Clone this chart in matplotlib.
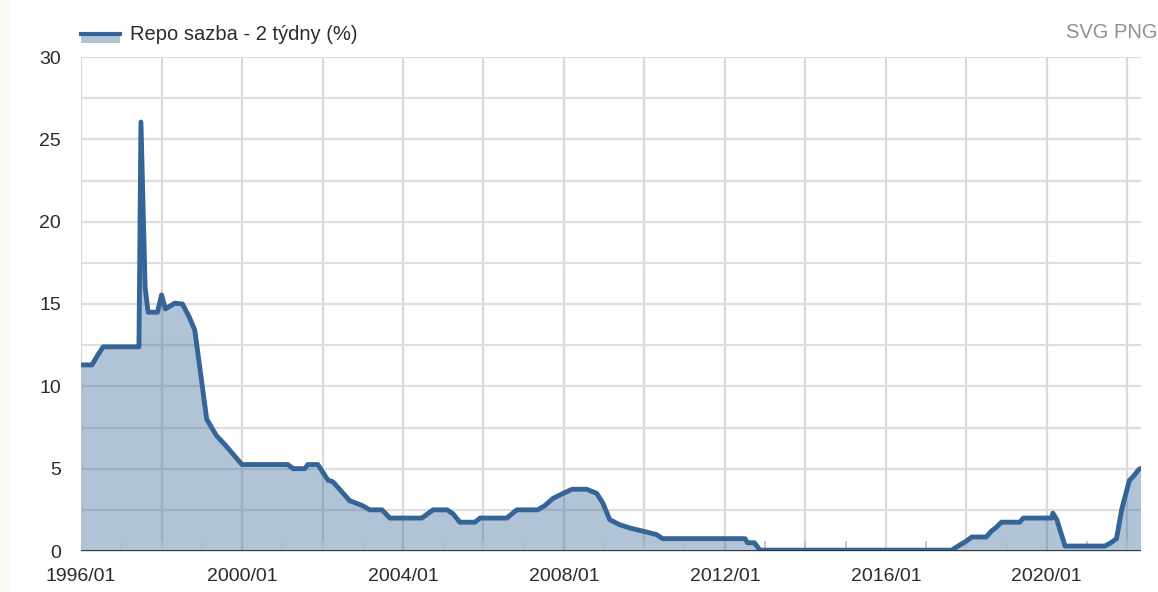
import matplotlib
matplotlib.use("Agg")
import matplotlib.pyplot as plt
import matplotlib.dates as mdates
from matplotlib.lines import Line2D
from matplotlib.patches import Rectangle
import pandas as pd

plt.rcParams["font.family"] = ["Liberation Sans", "DejaVu Sans"]

# ── data: vertices of the repo-rate line ──────────────────────────────────────
DATES = [
    "1996-01-01", "1996-04-10", "1996-06-01", "1996-07-20", "1997-06-10",
    "1997-06-28", "1997-08-05", "1997-09-01", "1997-11-25", "1998-01-01",
    "1998-02-05", "1998-05-01", "1998-07-10", "1998-09-10", "1998-10-30",
    "1999-02-15", "1999-05-15", "1999-07-25", "2000-01-01", "2001-02-20",
    "2001-04-10", "2001-07-25", "2001-08-20", "2001-11-20", "2002-02-20",
    "2002-04-05", "2002-06-05", "2002-09-05", "2002-11-05", "2003-01-01",
    "2003-03-05", "2003-06-25", "2003-09-05", "2004-06-20", "2004-08-10",
    "2004-10-01", "2005-02-05", "2005-04-01", "2005-06-01", "2005-10-15",
    "2005-12-01", "2006-08-01", "2006-09-15", "2006-11-01", "2007-05-08",
    "2007-07-10", "2007-09-25", "2007-12-25", "2008-03-15", "2008-07-25",
    "2008-10-25", "2008-12-20", "2009-02-20", "2009-05-20", "2009-08-20",
    "2009-12-20", "2010-04-20", "2010-06-15", "2012-07-01", "2012-07-25",
    "2012-09-25", "2012-11-15", "2017-08-20", "2017-11-01", "2017-12-20",
    "2018-02-20", "2018-07-01", "2018-08-15", "2018-10-01", "2018-11-15",
    "2019-05-01", "2019-06-01", "2020-02-15", "2020-02-25", "2020-04-01",
    "2020-06-15", "2021-06-10", "2021-08-05", "2021-09-25", "2021-11-10",
    "2022-01-20", "2022-02-20", "2022-04-15", "2022-05-01",
]
RATE = [
    11.3, 11.3, 11.9, 12.4, 12.4,
    26.05, 16.0, 14.5, 14.5, 15.55,
    14.7, 15.05, 15.0, 14.2, 13.4,
    8.0, 7.0, 6.5, 5.25, 5.25,
    5.0, 5.0, 5.25, 5.25, 4.3,
    4.2, 3.75, 3.05, 2.9, 2.75,
    2.5, 2.5, 2.0, 2.0, 2.25,
    2.5, 2.5, 2.25, 1.75, 1.75,
    2.0, 2.0, 2.25, 2.5, 2.5,
    2.75, 3.2, 3.5, 3.75, 3.75,
    3.5, 2.9, 1.9, 1.6, 1.4,
    1.2, 1.0, 0.75, 0.75, 0.5,
    0.5, 0.05, 0.05, 0.36, 0.55,
    0.85, 0.85, 1.2, 1.45, 1.75,
    1.75, 2.0, 2.0, 2.3, 1.9,
    0.3, 0.3, 0.5, 0.75, 2.5,
    4.3, 4.5, 4.95, 5.0,
]
LABEL = "Repo sazba - 2 týdny (%)"
Y_TICKS = [0, 5, 10, 15, 20, 25, 30]

LINE_C = "#356597"
FILL_C = "#3a6a9c"
TXT_C = "#2b2b2b"

x = pd.to_datetime(DATES)

fig = plt.figure(figsize=(11.58, 5.92), dpi=100)
fig.patch.set_facecolor("white")
fig.add_artist(Rectangle((0, 0), 10 / 1158, 1, transform=fig.transFigure,
                         fc="#fafaf3", ec="none", zorder=0))

ax = fig.add_axes([81 / 1158, 41 / 592, 1060 / 1158, 494 / 592])
ax.set_xlim(pd.Timestamp("1996-01-01"), pd.Timestamp("2022-05-05"))
ax.set_ylim(0, 30)

# grid
ax.xaxis.set_major_locator(mdates.YearLocator(4))
ax.xaxis.set_minor_locator(mdates.YearLocator(1))
ax.xaxis.set_major_formatter(mdates.DateFormatter("%Y/%m"))
ax.set_yticks(Y_TICKS)
for yr in range(1996, 2023, 2):
    ax.axvline(pd.Timestamp(f"{yr}-01-01"), color="#d9d9d9", lw=1.6, zorder=0)
for yv in [2.5 * i for i in range(1, 13)]:
    ax.axhline(yv, color="#dedede", lw=1.6, zorder=0)

ax.fill_between(x, RATE, 0, color=FILL_C, alpha=0.4, lw=0, zorder=1)
ax.plot(x, RATE, color=LINE_C, lw=3.5, solid_joinstyle="round", zorder=3)
ax.axhline(0, color="#333333", lw=1.4, zorder=4)

for s in ["top", "right", "left", "bottom"]:
    ax.spines[s].set_visible(False)
ax.tick_params(axis="y", length=0, pad=14.5, labelsize=14, labelcolor=TXT_C)
ax.tick_params(axis="x", which="major", length=0, pad=12, labelsize=14,
               labelcolor=TXT_C)
ax.tick_params(axis="x", which="minor", direction="in", length=7,
               color="#bbbbbb", width=1.2)

# legend (drawn by hand) and export links
fig.add_artist(Rectangle((81 / 1158, 1 - 43 / 592), 39 / 1158, 8 / 592,
                         transform=fig.transFigure, fc=FILL_C, alpha=0.4, ec="none"))
fig.add_artist(Line2D([81 / 1158, 120 / 1158], [1 - 34 / 592, 1 - 34 / 592],
                      transform=fig.transFigure, color=LINE_C, lw=3))
fig.text(130 / 1158, 1 - 35 / 592, LABEL, fontsize=14.5, color=TXT_C,
         ha="left", va="center")
fig.text(1066 / 1158, 1 - 33 / 592, "SVG PNG", fontsize=14.5, color="#909090",
         ha="left", va="center")

plt.savefig("out.png", dpi=100)
